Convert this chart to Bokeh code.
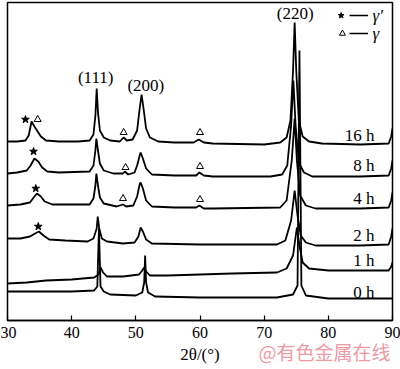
from bokeh.plotting import figure
from bokeh.models import ColumnDataSource, Range1d, FixedTicker, Title
from bokeh.core.properties import value
from bokeh.embed import file_html
from bokeh.resources import INLINE

# ---------------- data (2theta in degrees, intensity in a.u.) ----------------
tt_16h = [30.0, 31.5, 32.8, 33.3, 33.75, 34.2, 34.6, 35.2, 36.0, 38, 41, 42.8, 43.4, 43.7, 43.9, 44.1, 44.4, 45, 46,
          47.5, 48.1, 48.6, 49.5, 50.2, 50.6, 50.9, 51.2, 51.6, 52.2, 53.5, 56, 59.0, 59.8, 60.6, 62, 70, 72.5, 73.5,
          74.1, 74.5, 74.75, 75.0, 75.4, 76.0, 77.0, 79, 85, 89.4, 89.8, 90.0]
I_16h = [179, 179, 180, 185, 199, 194, 190, 184, 180, 179, 179, 180, 186, 205, 232, 208, 190, 183, 180,
         179, 183, 180, 181, 190, 212, 226, 212, 192, 183, 179, 178, 178, 181, 178, 177, 176, 178, 183,
         200, 250, 298, 250, 200, 184, 179, 177, 176, 177, 184, 192]

tt_8h = [30.0, 31.5, 33.0, 33.6, 34.2, 34.8, 35.4, 36.2, 38, 42.8, 43.4, 43.7, 43.85, 44.1, 44.4, 45.0, 46.5, 48.0,
         48.3, 48.8, 49.8, 50.2, 50.6, 50.75, 51.1, 51.6, 52.5, 56, 59.4, 59.9, 60.6, 62, 71, 72.8, 73.6, 74.2,
         74.55, 74.9, 75.4, 76.2, 77.5, 85, 89.4, 89.8, 90.0]
I_8h = [147, 148, 150, 155, 162, 159, 153, 149, 148, 149, 155, 170, 182, 170, 157, 150, 147, 147,
        149, 146, 148, 155, 165, 168, 162, 152, 146, 145, 145, 148, 145, 144, 144, 146, 155, 195,
        240, 195, 158, 148, 144, 144, 145, 152, 160]

tt_4h = [30, 32, 33.5, 34.2, 34.6, 35.2, 35.8, 37, 42.8, 43.4, 43.7, 43.85, 44.1, 44.4, 45.0, 47, 48.0, 48.5, 49.6,
         50.2, 50.6, 50.75, 51.1, 51.6, 52.5, 56, 59.4, 59.9, 60.6, 62, 72.5, 73.5, 74.3, 74.75, 75.1, 75.6, 76.5,
         78, 85, 89.4, 89.8, 90.0]
I_4h = [115, 116, 118, 124, 127, 124, 119, 116, 116, 122, 135, 147, 135, 123, 117, 114, 116, 114, 115,
        124, 136, 138, 132, 120, 114, 113, 113, 115, 112, 112, 113, 120, 160, 202, 160, 125, 115,
        112, 112, 113, 120, 128]

tt_2h = [30, 32, 33.5, 34.3, 34.9, 35.6, 36.5, 39, 42.5, 43.4, 43.9, 44.06, 44.3, 44.7, 45.5, 48, 49.8, 50.4, 50.75,
         51.1, 51.6, 52.5, 60, 72, 73.3, 74.2, 74.75, 75.2, 75.7, 76.5, 78, 85, 89.4, 89.8, 90.0]
I_2h = [82, 82, 84, 87, 89, 85, 81, 80, 79, 82, 92, 104, 92, 82, 79, 77, 78, 84, 93,
        89, 81, 77, 76, 76, 80, 100, 130, 105, 85, 78, 75, 75, 76, 84, 92]

tt_1h = [30, 33, 36, 40, 43.5, 44.2, 44.5, 44.9, 45.5, 48, 50.5, 51.0, 51.3, 51.6, 52.2, 55, 65, 72, 73.5, 74.5,
         75.1, 75.5, 76.0, 77, 80, 89.4, 89.8, 90.0]
I_1h = [37, 38, 40, 41, 43, 46, 53, 48, 44, 44, 46, 50, 53, 49, 45, 45, 47, 48, 52, 65,
        93, 75, 58, 52, 50, 50, 54, 58]

tt_0h = [30, 35, 40, 43.5, 44.0, 44.25, 44.5, 45, 46, 50, 51.0, 51.3, 51.45, 51.6, 51.9, 53, 60, 72, 74.5, 75.2,
         75.5, 75.8, 76.5, 80, 90]
I_0h = [29, 29, 29, 30, 34, 92, 34, 29, 26, 25, 28, 38, 65, 38, 28, 24, 23, 23, 26, 35,
        270, 35, 25, 22, 22]

# curve labels
time_labels = ["16 h", "8 h", "4 h", "2 h", "1 h", "0 h"]
time_label_x = [87.2, 87.2, 87.2, 87.2, 87.2, 87.2]
time_label_I = [185, 155, 122, 85, 60, 28]

# reflection labels
hkl_labels = ["(111)", "(200)", "(220)"]
hkl_x = [43.75, 51.56, 74.84]
hkl_I = [243, 235, 307]

# phase markers
star_x = [32.8, 34.06, 34.4, 34.8]
star_I = [201, 169, 132, 94]
tri_x = [34.7, 48.1, 60.0, 48.4, 60.0, 48.0, 60.0]
tri_I = [201, 188, 188, 153, 154, 122, 121]

x_ticks = [30, 40, 50, 60, 70, 80, 90]

SERIF = "Liberation Serif"

p = figure(width=400, height=369, output_backend="svg", toolbar_location=None,
           x_range=Range1d(30, 90), y_range=Range1d(0, 318),
           min_border_left=7, min_border_right=8, min_border_top=2, min_border_bottom=49,
           y_axis_location=None)
p.background_fill_color = "white"
p.border_fill_color = "white"
p.outline_line_color = "black"
p.outline_line_width = 1.5
p.grid.visible = False

ax = p.xaxis[0]
ax.ticker = FixedTicker(ticks=x_ticks)
ax.major_tick_in = 5
ax.major_tick_out = 0
ax.minor_tick_line_color = None
ax.axis_line_width = 1.5
ax.major_tick_line_width = 1.2
ax.major_label_text_font = SERIF
ax.major_label_text_font_size = "16px"
ax.major_label_text_color = "black"
ax.major_label_standoff = 6
ax.axis_label = "2θ/(°)"
ax.axis_label_text_font = SERIF
ax.axis_label_text_font_size = "17px"
ax.axis_label_text_font_style = "normal"
ax.axis_label_text_color = "black"
ax.axis_label_standoff = 4

for tt, ii in [(tt_16h, I_16h), (tt_8h, I_8h), (tt_4h, I_4h), (tt_2h, I_2h), (tt_1h, I_1h), (tt_0h, I_0h)]:
    p.line(tt, ii, line_color="black", line_width=1.8)

p.scatter(star_x, star_I, marker="star", size=8, fill_color="black", line_color="black")
p.scatter(tri_x, tri_I, marker="triangle", size=7, fill_color=None, line_color="black", line_width=1)

src_t = ColumnDataSource(dict(x=time_label_x, y=time_label_I, t=time_labels))
p.text(x="x", y="y", text="t", source=src_t, text_font=value(SERIF), text_font_size="17px",
       text_align="right", text_baseline="middle", text_color="black")

src_h = ColumnDataSource(dict(x=hkl_x, y=hkl_I, t=hkl_labels))
p.text(x="x", y="y", text="t", source=src_h, text_font=value(SERIF), text_font_size="17px",
       text_align="center", text_baseline="middle", text_color="black")

# legend (drawn in data space)
p.scatter([82.0], [305], marker="star", size=6, fill_color="black", line_color="black")
p.scatter([82.2], [287], marker="triangle", size=6, fill_color=None, line_color="black")
p.segment(x0=[83.3, 83.3], y0=[305, 287], x1=[86.2, 86.2], y1=[305, 287], line_color="black", line_width=1.5)
p.text(x=[86.9, 86.9], y=[305, 287], text=["γ′", "γ"], text_font=value(SERIF), text_font_size="17px",
       text_font_style="italic", text_align="left", text_baseline="middle", text_color="black")

# watermark as a title panel below the axis, pulled up next to the axis title
wm = Title(text="@有色金属在线", align="right", vertical_align="top", offset=2, standoff=-58,
           text_font="Noto Sans CJK SC", text_font_size="19px", text_font_style="normal",
           text_color="#ef9aa3")
p.add_layout(wm, "below")

open("out.html", "w").write(file_html(p, INLINE))
